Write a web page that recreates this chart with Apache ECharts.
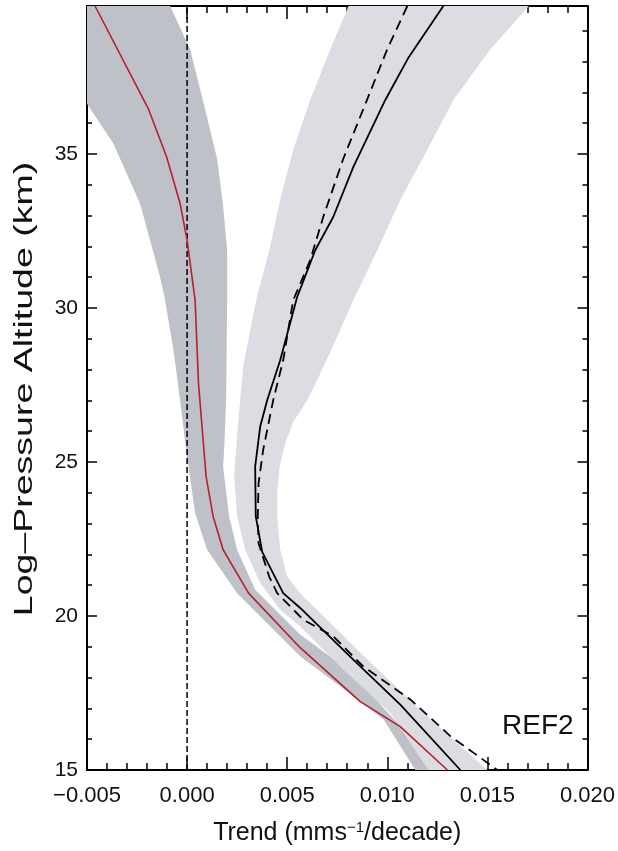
<!DOCTYPE html>
<html>
<head>
<meta charset="utf-8">
<script src="https://cdn.jsdelivr.net/npm/echarts@6/dist/echarts.min.js"></script>
<style>
html, body { margin: 0; padding: 0; background: #fff; }
#main { width: 618px; height: 851px; }
</style>
</head>
<body>
<div id="main"></div>
<script>
// 坐标轴刻度
var yMajor = [15, 20, 25, 30, 35];
var yMinor = [16, 17, 18, 19, 21, 22, 23, 24, 26, 27, 28, 29, 31, 32, 33, 34, 36, 37, 38, 39];

// 红线 (趋势)
var redAlt   = [39.8, 36.47, 34.9, 33.39, 32.2, 30.25, 27.55, 24.52, 23.23, 22.15, 20.74, 18.97, 17.22, 16.41, 15];
var redTrend = [-0.0046, -0.00194, -0.00102, -0.00035, 0.0, 0.0004, 0.00057, 0.00095, 0.0013, 0.0018, 0.00307, 0.00565, 0.00865, 0.01065, 0.013];

// 黑色实线
var blackAlt   = [39.8, 38.14, 36.75, 34.57, 32.95, 31.87, 30.36, 28.3, 27.0, 26.14, 24.85, 23.23, 22.08, 20.74, 20.26, 18.58, 17.12, 15];
var blackTrend = [0.0128, 0.01107, 0.0099, 0.0083, 0.0073, 0.0064, 0.0055, 0.00465, 0.004, 0.00365, 0.0034, 0.00343, 0.00375, 0.0048, 0.00565, 0.0083, 0.01065, 0.01365];

// 黑色虚线
var dashAlt   = [39.8, 38.4, 36.45, 34.84, 32.95, 31.55, 30.25, 28.3, 27.0, 25.39, 24.31, 23.23, 22.36, 21.28, 20.74, 19.88, 19.34, 18.36, 17.29, 16.1, 15];
var dashTrend = [0.011, 0.01, 0.0088, 0.0078, 0.0068, 0.00615, 0.0053, 0.0048, 0.0043, 0.0038, 0.00357, 0.00353, 0.00357, 0.0041, 0.0045, 0.0058, 0.0073, 0.0088, 0.01115, 0.01315, 0.0155];

// 深灰色区间 (红线)
var darkLeftAlt    = [39.8, 36.63, 35.33, 33.39, 31.0, 30.25, 28.63, 27.0, 25.39, 24.85, 23.34, 22.15, 20.74, 18.69, 17.72, 16.64, 15];
var darkLeftTrend  = [-0.005, -0.005, -0.00368, -0.00235, -0.00135, -0.0011, -0.00068, -0.00035, -0.00005, 0.00007, 0.0004, 0.001, 0.0025, 0.00565, 0.00765, 0.00982, 0.0114];
var darkRightAlt   = [39.8, 38.4, 36.45, 34.84, 33.3, 31.87, 30.25, 27.0, 25.4, 24.85, 23.23, 22.15, 20.85, 19.4, 18.2, 15];
var darkRightTrend = [-0.00085, 0.00015, 0.0009, 0.0015, 0.0018, 0.002, 0.002, 0.00195, 0.00185, 0.0018, 0.0021, 0.0025, 0.0034, 0.00565, 0.00815, 0.01265];

// 浅灰色区间 (黑线)
var lightLeftAlt    = [39.8, 38.4, 36.75, 35.13, 33.5, 31.87, 30.25, 28.1, 25.9, 24.52, 23.23, 22.15, 21.07, 20.2, 19.66, 18.26, 16.85, 15];
var lightLeftTrend  = [0.00807, 0.00715, 0.00615, 0.0053, 0.00465, 0.0041, 0.00345, 0.0028, 0.0025, 0.00235, 0.0025, 0.0029, 0.00365, 0.00465, 0.00565, 0.0078, 0.01015, 0.01205];
var lightRightAlt   = [39.8, 38.4, 36.75, 35.13, 33.5, 31.87, 30.25, 28.63, 27.8, 27.0, 26.3, 25.6, 24.85, 24.0, 23.23, 22.15, 21.28, 20.74, 18.9, 16.95, 15];
var lightRightTrend = [0.01707, 0.01515, 0.0133, 0.012, 0.01065, 0.0095, 0.0083, 0.0072, 0.0066, 0.006, 0.0053, 0.0049, 0.00462, 0.0045, 0.0045, 0.00465, 0.005, 0.00565, 0.0085, 0.01165, 0.015];

var FONT = 'Liberation Sans';

function pairs(xs, ys) {
    var out = [];
    for (var i = 0; i < xs.length; i++) out.push([xs[i], ys[i]]);
    return out;
}

// 区间多边形: 左边从上到下, 右边从下到上
function band(lx, ly, rx, ry, color) {
    return {
        type: 'custom',
        silent: true,
        data: [[0, 20]],
        renderItem: function (params, api) {
            var pts = [];
            for (var i = 0; i < lx.length; i++) pts.push(api.coord([lx[i], ly[i]]));
            for (var j = rx.length - 1; j >= 0; j--) pts.push(api.coord([rx[j], ry[j]]));
            return { type: 'polygon', shape: { points: pts }, style: { fill: color } };
        }
    };
}

function xFmt(v) {
    if (Math.abs(v) < 1e-9) return '0.000';
    return (v < 0 ? '\u2212' : '') + Math.abs(v).toFixed(3);
}

var xCommon = {
    type: 'value', min: -0.005, max: 0.02, interval: 0.005,
    axisLine: { show: true, onZero: false, lineStyle: { color: '#000', width: 2 } },
    axisTick: { inside: true, length: 13, lineStyle: { color: '#000', width: 1.5 } },
    minorTick: { show: true, splitNumber: 5, length: 7, lineStyle: { color: '#000', width: 1.5 } },
    splitLine: { show: false }
};

function yAxisDef(pos, ticks, len, labels) {
    return {
        type: 'value', min: 15, max: 39.8, position: pos, offset: 0,
        axisLine: { show: labels, onZero: false, lineStyle: { color: '#000', width: 2 } },
        axisTick: { inside: true, length: len, customValues: ticks, lineStyle: { color: '#000', width: 1.5 } },
        axisLabel: { show: labels && pos === 'left', customValues: yMajor, margin: 9,
            fontFamily: FONT, fontSize: 21, color: '#111' },
        splitLine: { show: false }
    };
}

var myChart = echarts.init(document.getElementById('main'));

var option = {
    animation: false,
    backgroundColor: '#fff',
    grid: { left: 87, right: 30, top: 6, bottom: 80 },
    xAxis: [
        Object.assign({}, xCommon, {
            position: 'bottom',
            axisLabel: { formatter: xFmt, margin: 15, fontFamily: FONT, fontSize: 22, color: '#111' },
            name: 'Trend (mms{sup|\u22121}/decade)',
            nameLocation: 'middle',
            nameGap: 50,
            nameTextStyle: {
                fontFamily: FONT, fontSize: 25, color: '#111',
                rich: { sup: { fontFamily: FONT, fontSize: 15, color: '#111', verticalAlign: 'top', padding: [0, 0, 12, 0] } }
            }
        }),
        Object.assign({}, xCommon, { position: 'top', axisLabel: { show: false } })
    ],
    yAxis: [
        yAxisDef('left', yMajor, 10, true),
        yAxisDef('left', yMinor, 5, false),
        yAxisDef('right', yMajor, 10, true),
        yAxisDef('right', yMinor, 5, false)
    ],
    graphic: [{
        // 纵轴标题 (原图字体较宽)
        type: 'text', x: 25, y: 389, rotation: Math.PI / 2, scaleX: 1.5,
        style: { text: 'Log\u2013Pressure Altitude (km)', fontFamily: FONT, fontSize: 25, fill: '#111',
            align: 'center', verticalAlign: 'middle' }
    }, {
        type: 'text', left: 502, top: 712,
        style: { text: 'REF2', fontFamily: FONT, fontSize: 28, fill: '#111' }
    }],
    series: [
        band(darkLeftTrend, darkLeftAlt, darkRightTrend, darkRightAlt, '#bfc1c8'),
        band(lightLeftTrend, lightLeftAlt, lightRightTrend, lightRightAlt, '#dcdde3'),
        {
            type: 'line', symbol: 'none', silent: true,
            data: [[0, 15], [0, 39.8]],
            lineStyle: { color: '#000', width: 1.5, type: [6, 3] }
        },
        {
            type: 'line', symbol: 'none', silent: true,
            data: pairs(dashTrend, dashAlt),
            lineStyle: { color: '#000', width: 1.8, type: [10, 6] }
        },
        {
            type: 'line', symbol: 'none', silent: true,
            data: pairs(blackTrend, blackAlt),
            lineStyle: { color: '#000', width: 1.8 }
        },
        {
            type: 'line', symbol: 'none', silent: true,
            data: pairs(redTrend, redAlt),
            lineStyle: { color: '#b5202c', width: 1.6 }
        }
    ]
};

myChart.setOption(option);
</script>
</body>
</html>
